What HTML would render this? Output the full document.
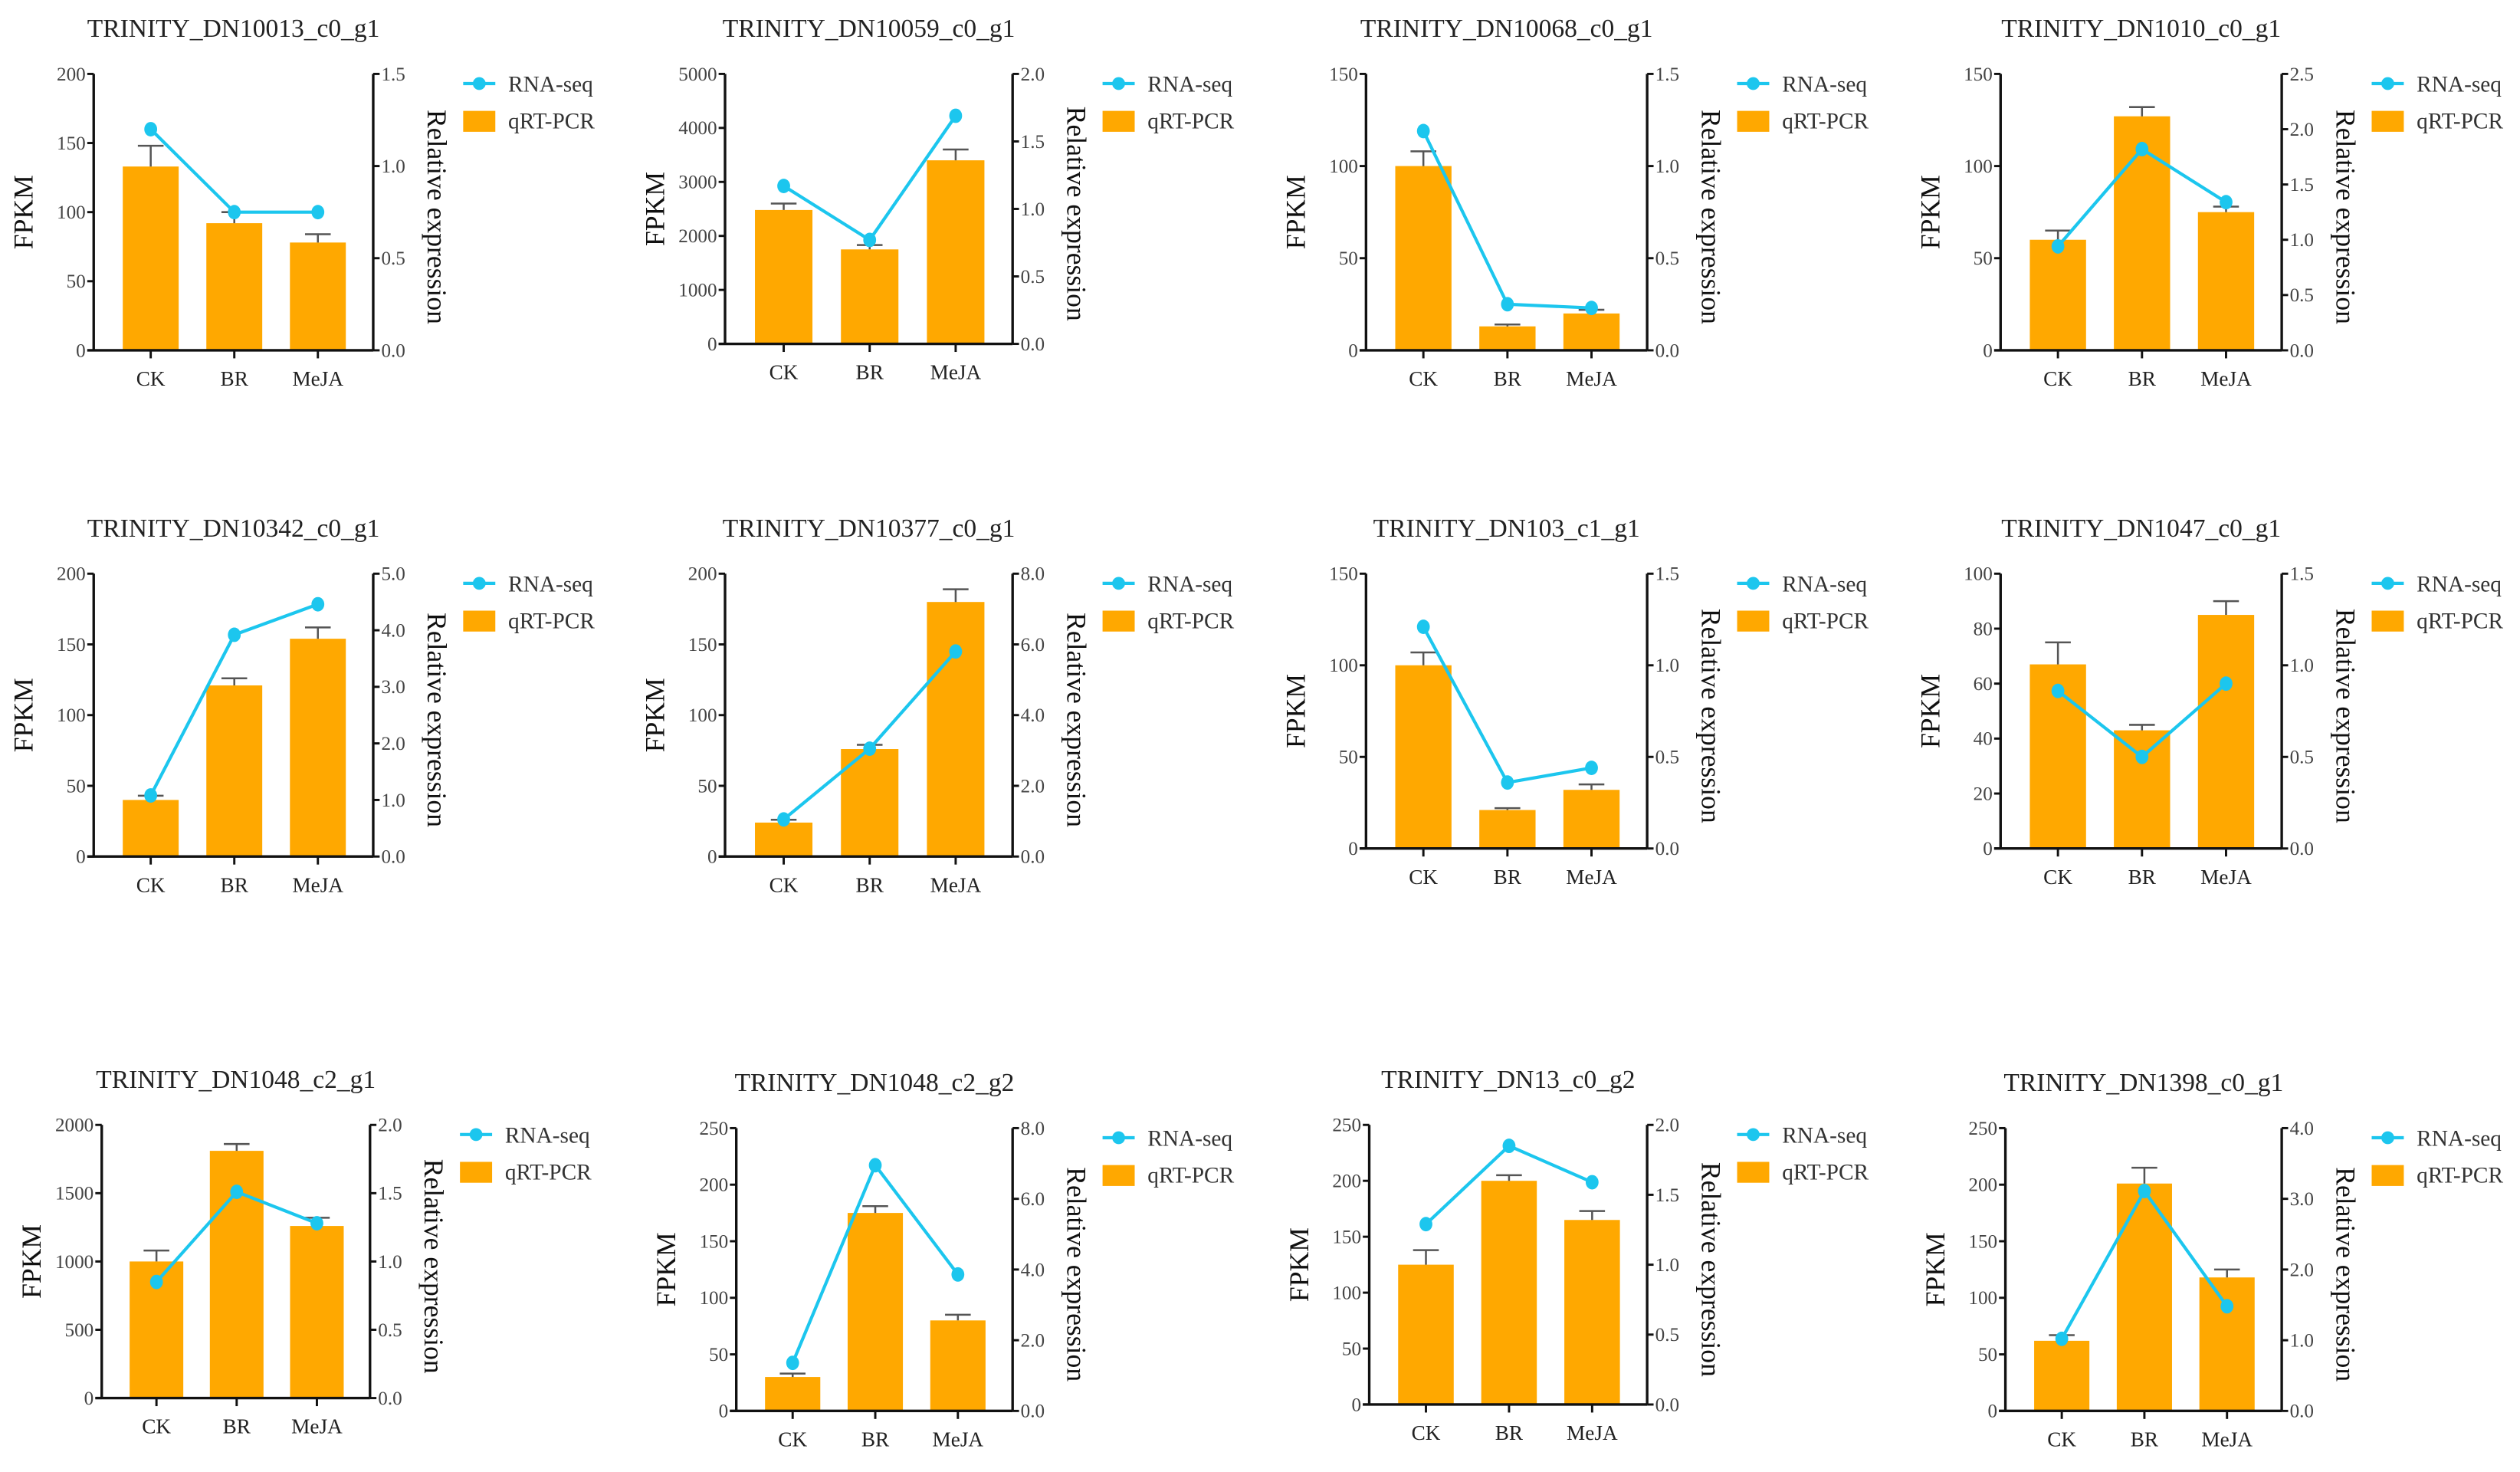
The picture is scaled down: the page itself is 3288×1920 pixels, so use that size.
<!DOCTYPE html>
<html><head><meta charset="utf-8">
<style>
html,body{margin:0;padding:0;background:#fff;}
svg{display:block;font-family:"Liberation Serif","DejaVu Serif",serif;}
svg text{font-family:"Liberation Serif","DejaVu Serif",serif;}
</style></head>
<body>
<svg id="fig" xmlns="http://www.w3.org/2000/svg" width="3288" height="1920" viewBox="0 0 1568 916"></svg>
<script>
const panelTitles = ["TRINITY_DN10013_c0_g1","TRINITY_DN10059_c0_g1","TRINITY_DN10068_c0_g1","TRINITY_DN1010_c0_g1",
"TRINITY_DN10342_c0_g1","TRINITY_DN10377_c0_g1","TRINITY_DN103_c1_g1","TRINITY_DN1047_c0_g1",
"TRINITY_DN1048_c2_g1","TRINITY_DN1048_c2_g2","TRINITY_DN13_c0_g2","TRINITY_DN1398_c0_g1"];
const categories = ["CK","BR","MeJA"];
const fpkmValues = [[133,92,78],[2480,1750,3400],[100,13,20],[60,127,75],
[40,121,154],[24,76,180],[100,21,32],[67,43,85],
[1000,1810,1260],[30,175,80],[125,200,165],[62,201,118]];
const fpkmErrors = [[15,8,6],[120,80,200],[8,1,2],[5,5,3],
[3,5,8],[2,3,9],[7,1,3],[8,2,5],
[80,50,60],[3,6,5],[13,5,8],[5,14,7]];
const relValues = [[1.2,0.75,0.75],[1.17,0.77,1.69],[1.19,0.25,0.23],[0.94,1.82,1.34],
[1.08,3.92,4.46],[1.05,3.05,5.8],[1.21,0.36,0.44],[0.86,0.5,0.9],
[0.85,1.51,1.28],[1.36,6.95,3.86],[1.29,1.85,1.59],[1.02,3.11,1.48]];
const leftMax = [200,5000,150,150,200,200,150,100,2000,250,250,250];
const leftStep = [50,1000,50,50,50,50,50,20,500,50,50,50];
const rightMax = [1.5,2.0,1.5,2.5,5.0,8.0,1.5,1.5,2.0,8.0,2.0,4.0];
const rightStep = [0.5,0.5,0.5,0.5,1.0,2.0,0.5,0.5,0.5,2.0,0.5,1.0];

// layout (pixel geometry, not data)
const frameL = [58,451,850,1245,58,451,850,1245,63,458,852,1248];
const frameR = [232,630,1025,1420,232,630,1025,1420,230,630,1025,1420];
const frameT = [46,46,46,46,357,357,357,357,700,702,700,702];
const frameB = [218,214,218,218,533,533,528,528,870,878,874,878];

const NS="http://www.w3.org/2000/svg";
const svg=document.getElementById('fig');
const ORANGE="#FFA800", CYAN="#1CC6EE";
function el(tag,attrs,parent,text){
  const e=document.createElementNS(NS,tag);
  for(const k in attrs) e.setAttribute(k,attrs[k]);
  if(text!==undefined) e.textContent=text;
  (parent||svg).appendChild(e);
  return e;
}

for(let p=0;p<12;p++){
  const L=frameL[p],R=frameR[p],T=frameT[p],B=frameB[p],W=R-L;
  const g=el('g',{});
  
  
  const yL=v=>B-(v/leftMax[p])*(B-T);
  const yR=v=>B-(v/rightMax[p])*(B-T);
  const xC=i=>L+W*(0.204+0.299*i);
  const bw=W*0.2;
  const t=el('text',{x:(L+R)/2,y:T-23,'font-size':16,'text-anchor':'middle',fill:'#222'},g,panelTitles[p]);
  
  
  for(let i=0;i<3;i++){
    const v=fpkmValues[p][i],e=fpkmErrors[p][i],cx=xC(i);
    const b=el('rect',{x:cx-bw/2,y:yL(v),width:bw,height:B-yL(v),fill:ORANGE},g);
    
    
    const eb=el('path',{d:`M${cx} ${yL(v)}V${yL(v+e)}M${cx-8} ${yL(v+e)}H${cx+8}`,stroke:'#555','stroke-width':1.2,fill:'none'},g);
    
    
  }
  el('path',{d:`M${L} ${T}V${B}M${R} ${T}V${B}M${L-4} ${B}H${R}`,stroke:'#111','stroke-width':1.6,fill:'none'},g);
  for(let v=0;v<=leftMax[p]+1e-9;v+=leftStep[p]){
    const y=yL(v);
    el('line',{x1:L-4,x2:L,y1:y,y2:y,stroke:'#111','stroke-width':1.4},g);
    const tl=el('text',{x:L-5,y:y+4,'font-size':12,'text-anchor':'end',fill:'#444'},g,String(v));
    
    
  }
  for(let k=0;k*rightStep[p]<=rightMax[p]+1e-9;k++){
    const v=k*rightStep[p],y=yR(v);
    el('line',{x1:R,x2:R+4,y1:y,y2:y,stroke:'#111','stroke-width':1.4},g);
    const tr=el('text',{x:R+5,y:y+4,'font-size':12,fill:'#444'},g,v.toFixed(1));
    
    
  }
  for(let i=0;i<3;i++){
    const cx=xC(i);
    el('line',{x1:cx,x2:cx,y1:B,y2:B+5,stroke:'#111','stroke-width':1.4},g);
    const cl=el('text',{x:cx,y:B+22,'font-size':13,'text-anchor':'middle',fill:'#222'},g,categories[i]);
    
    
  }
  const my=(T+B)/2;
  const yt=el('text',{x:0,y:0,'font-size':17,'text-anchor':'middle',fill:'#111',transform:`translate(${L-38},${my}) rotate(-90)`},g,'FPKM');
  
  
  const rt=el('text',{x:0,y:0,'font-size':17,'text-anchor':'middle',fill:'#111',transform:`translate(${R+34},${my+3}) rotate(90)`},g,'Relative expression');
  
  
  const pts=relValues[p].map((v,i)=>xC(i)+','+yR(v)).join(' ');
  const ln=el('polyline',{points:pts,fill:'none',stroke:CYAN,'stroke-width':2},g);
  
  
  relValues[p].forEach((v,i)=>{
    const c=el('ellipse',{cx:xC(i),cy:yR(v),rx:4,ry:4.5,fill:CYAN},g);
    
    
  });
  const lx=R+56, ly=T+6;
  const lg=el('g',{},g);
  
  
  el('line',{x1:lx,x2:lx+20,y1:ly,y2:ly,stroke:CYAN,'stroke-width':2},lg);
  el('circle',{cx:lx+10,cy:ly,r:4,fill:CYAN},lg);
  el('text',{x:lx+28,y:ly+5,'font-size':14,fill:'#333'},lg,'RNA-seq');
  el('rect',{x:lx,y:ly+17,width:20,height:13,fill:ORANGE},lg);
  el('text',{x:lx+28,y:ly+28,'font-size':14,fill:'#333'},lg,'qRT-PCR');
}
</script>
</body></html>
